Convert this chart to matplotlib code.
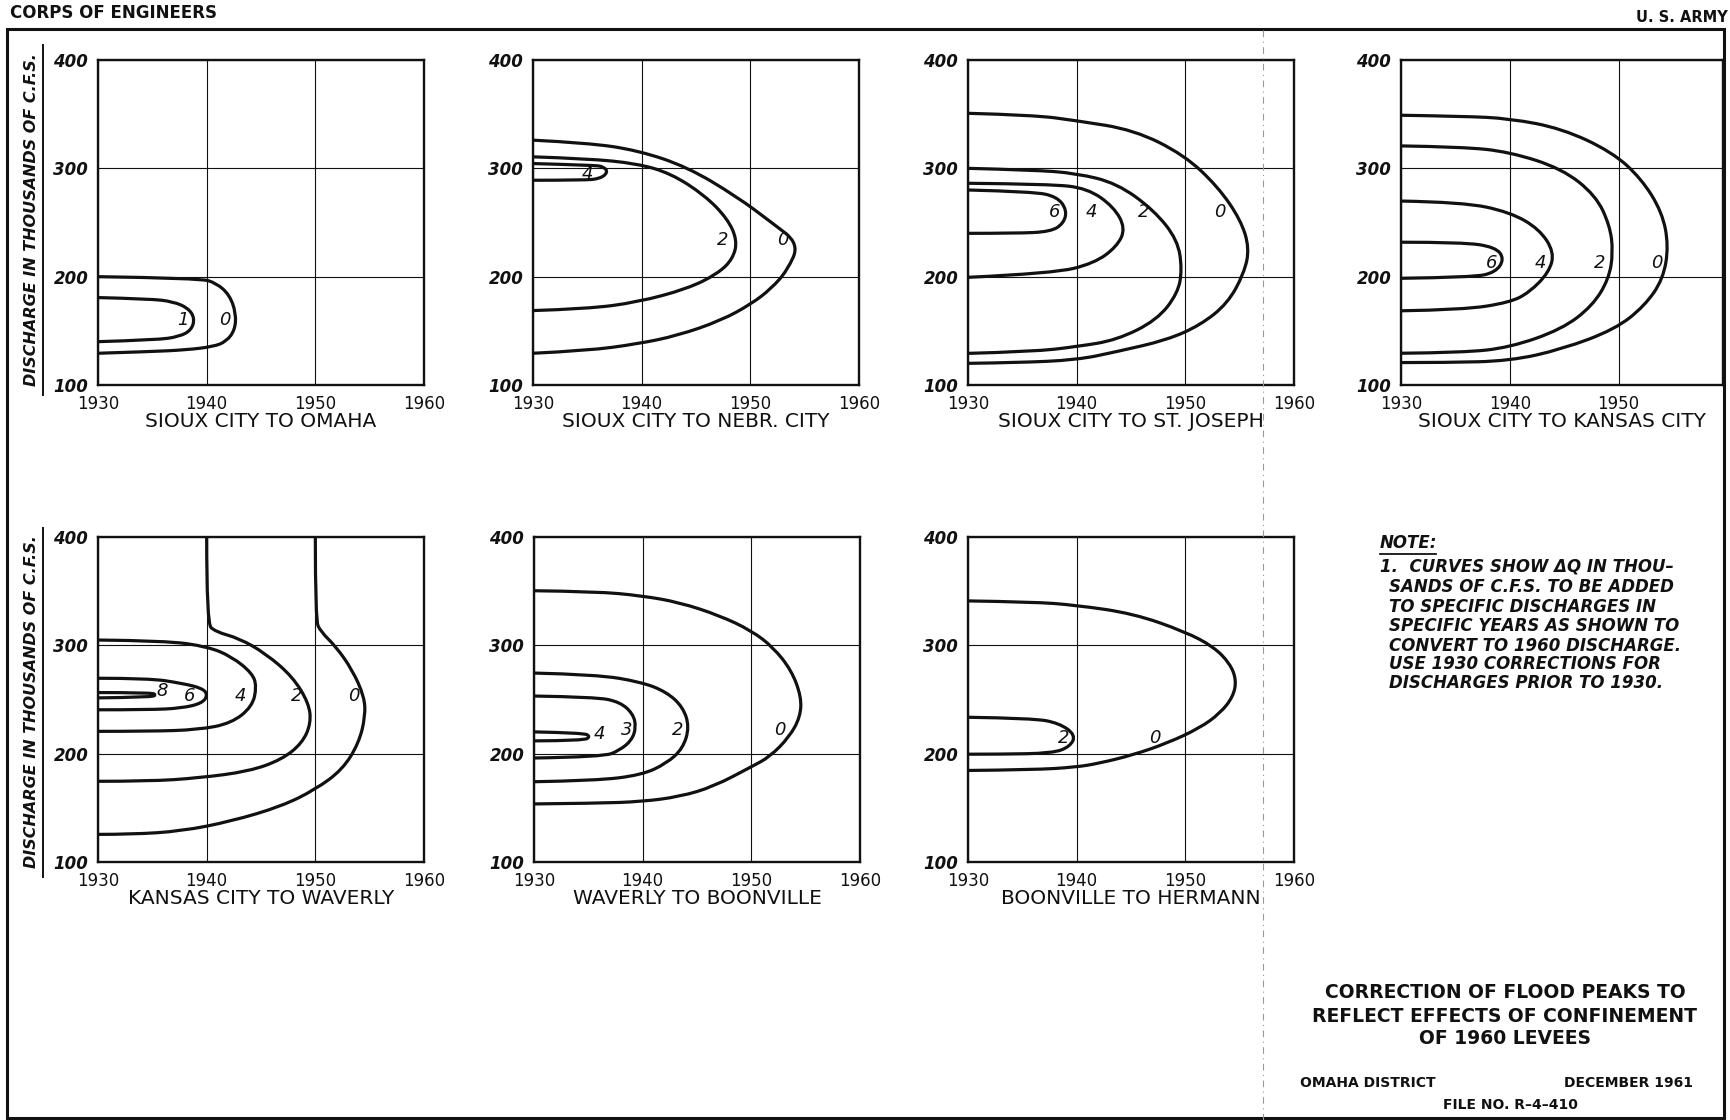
import numpy as np
import matplotlib.pyplot as plt
from matplotlib.path import Path
from matplotlib.patches import PathPatch, Rectangle
from matplotlib.lines import Line2D

# Curves of equal correction (thousands of c.f.s.), as (year, discharge) pairs

# Sioux City to Omaha
omaha_0 = [(1930, 200), (1939.4, 198.6), (1940.9, 194), (1942.1, 183.2), (1942.7, 166.2),
           (1942.6, 150.8), (1941.8, 140.1), (1940.6, 135.4), (1938.1, 132.4), (1934.8, 130.8),
           (1930, 129.3)]
omaha_1 = [(1930, 180.7), (1934.8, 179.5), (1936.9, 177), (1938.3, 171), (1938.9, 161.6),
           (1938.6, 150.8), (1937.5, 144.7), (1935.4, 141.6), (1930, 140)]

# Sioux City to Nebr. City
nebr_0 = [(1930, 326), (1935, 323.5), (1939.6, 316.7), (1944.2, 301.3), (1948.8, 273.6),
          (1951.9, 250.4), (1954.5, 230.4), (1953.4, 205.7), (1951.9, 188.8), (1950.1, 174.9),
          (1947.3, 159.5), (1943.3, 145.6), (1939.6, 137.9), (1935, 131.7), (1930, 129.3)]
nebr_2 = [(1930, 310.6), (1935, 309), (1939.6, 304.4), (1942.7, 295.2), (1945.8, 275.1),
          (1947.9, 253.5), (1948.8, 233.5), (1948.4, 216.5), (1947, 202.7), (1944.2, 188.8),
          (1939.6, 176.4), (1935, 170.3), (1930, 168.7)]
nebr_4 = [(1930, 304.4), (1935.6, 302.9), (1936.5, 301.5), (1936.9, 296.5), (1936.2, 290.5),
          (1934.7, 289), (1930, 289)]

# Sioux City to St. Joseph
stjoe_0 = [(1930, 350.8), (1936, 349.2), (1940, 344), (1945.3, 335.4), (1949.9, 312.3),
           (1953, 283), (1955.1, 252.3), (1955.9, 226.2), (1955.4, 203.1), (1953.9, 175.4),
           (1951.4, 155.4), (1948.3, 141.5), (1943.7, 130.8), (1940, 123.1), (1934.5, 120.6),
           (1930, 120)]
stjoe_2 = [(1930, 300), (1936, 298.5), (1940, 295.4), (1943.7, 286.2), (1947.1, 261.5),
           (1949.3, 233.8), (1949.7, 206.2), (1949.3, 184.6), (1947.4, 160), (1943.7, 141.5),
           (1940, 135.4), (1936, 130.8), (1930, 129.2)]
stjoe_4 = [(1930, 286.2), (1937.6, 285.5), (1941, 281.5), (1943.4, 264.6), (1944.5, 244.6),
           (1943.7, 227.7), (1941.6, 212.3), (1937.9, 203.1), (1930, 199.4)]
stjoe_6 = [(1930, 280), (1936, 278.5), (1938.2, 273.8), (1939.1, 261.5), (1938.8, 249.2),
           (1937.6, 241.5), (1934.5, 240), (1930, 240)]

# Sioux City to Kansas City
kc_0 = [(1930, 349), (1935.7, 348.1), (1940, 346), (1944.8, 336.7), (1949.4, 315.1),
        (1952.1, 290.4), (1954, 259.6), (1954.6, 228.7), (1954.1, 197.8), (1952.4, 173.1),
        (1949.7, 151.5), (1944.8, 133), (1940, 122.2), (1934.2, 120.7), (1930, 120.7)]
kc_2 = [(1930, 320.7), (1935.7, 319.8), (1940, 315.1), (1944.8, 299.7), (1947.9, 275),
        (1949.2, 247.2), (1949.5, 222.5), (1949.1, 197.8), (1947.6, 173.1), (1944.8, 151.5),
        (1940, 134.6), (1935.7, 129.9), (1930, 129.3)]
kc_4 = [(1930, 269.8), (1935.7, 268.8), (1940, 259.6), (1942.7, 244.1), (1944.1, 222.5),
        (1943.6, 204), (1941.8, 185.5), (1940, 176.2), (1935.7, 169.4), (1930, 168.5)]
kc_6 = [(1930, 231.8), (1935.7, 231.8), (1938.7, 227.2), (1939.5, 216.4), (1938.7, 204),
        (1936.6, 199.4), (1930, 198.5)]

# Kansas City to Waverly
wav_0 = [(1950, 400), (1950, 323.3), (1950.5, 312.6), (1951.9, 298.8), (1953.4, 277.3),
         (1954.5, 252.8), (1954.6, 234.4), (1954, 209.8), (1952.5, 185.3), (1950, 166.9),
         (1946.9, 151.5), (1942.3, 137.7), (1937.7, 128.5), (1933.1, 125.5), (1930, 125.5)]
wav_2 = [(1940, 400), (1940, 320.2), (1940.8, 312.6), (1943, 306.4), (1945.4, 292.6),
         (1947.9, 271.2), (1949.4, 246.6), (1949.6, 228.2), (1948.8, 209.8), (1946.9, 194.5),
         (1943.9, 183.7), (1939.3, 177.6), (1934.7, 174.5), (1930, 174.5)]
wav_4 = [(1930, 304.9), (1936.2, 304.3), (1940.1, 298.8), (1942.3, 289.6), (1944.2, 274.2),
         (1944.6, 262), (1944.2, 243.6), (1942.3, 228.2), (1939.3, 222.1), (1934.7, 220.6),
         (1930, 220.6)]
wav_6 = [(1930, 269.6), (1934.7, 269.6), (1937.7, 265), (1939.6, 260.4), (1940.1, 254.3),
         (1939.6, 246.6), (1937.7, 242), (1934.7, 240.5), (1930, 240.5)]
wav_8 = [(1930, 256.4), (1934.8, 256.4), (1935.4, 254.3), (1934.8, 252.1), (1930, 251.5)]

# Waverly to Boonville
boon_0 = [(1930, 350.4), (1935.7, 349.7), (1939.9, 345.8), (1943.4, 339.6), (1947.1, 327.4),
          (1950, 313.6), (1952, 298.3), (1953.7, 276.8), (1954.6, 252.3), (1954.5, 233.9),
          (1953.5, 215.5), (1951.7, 197.1), (1950, 187.9), (1946.5, 169.5), (1943.4, 160.3),
          (1939.9, 155.7), (1935.7, 154.2), (1930, 153.6)]
boon_2 = [(1930, 274.4), (1935.7, 273.1), (1939.9, 266.1), (1942.2, 256.9), (1943.7, 243.1),
          (1944.3, 224.7), (1943.7, 204.8), (1942.2, 191), (1939.9, 180.3), (1935.7, 175.1),
          (1930, 174.1)]
boon_3 = [(1930, 253.2), (1935.7, 252.3), (1937.9, 247.7), (1939.1, 237), (1939.4, 224.7),
          (1939, 212.4), (1937.9, 203.3), (1936.4, 197), (1930, 196)]
boon_4 = [(1930, 220.1), (1934.5, 219.2), (1935.2, 216), (1934.6, 212), (1930, 211.8)]

# Boonville to Hermann
herm_0 = [(1930, 341), (1936, 340.1), (1939.9, 337.1), (1945.2, 329.4), (1950, 312.5),
          (1952.6, 298.7), (1954.1, 283.3), (1954.7, 268), (1954.4, 252.6), (1953.2, 237.3),
          (1951.3, 223.5), (1948.3, 209.6), (1945.2, 198.9), (1942.1, 191.2), (1939.9, 187.5),
          (1936, 185.1), (1930, 184.5)]
herm_2 = [(1930, 233.6), (1936, 232.7), (1938.4, 228.1), (1939.9, 217.3), (1939.4, 206.6),
          (1937.8, 200.4), (1932.9, 199.5), (1930, 199.5)]

# where each curve value is lettered
omaha_lbl = [(1941.7, 160), (1937.8, 160)]
nebr_lbl = [(1953, 233.5), (1947.5, 233.5), (1935, 294.5)]
stjoe_lbl = [(1953.2, 260), (1946.2, 260), (1941.4, 260), (1938, 260)]
kc_lbl = [(1953.5, 213), (1948.3, 213), (1942.8, 213), (1938.3, 213)]
wav_lbl = [(1953.5, 252.8), (1948.3, 252.8), (1943.1, 252.8), (1938.4, 252.8), (1935.9, 257.4)]
boon_lbl = [(1952.6, 221.6), (1943.2, 221.6), (1938.5, 221.6), (1936, 218)]
herm_lbl = [(1947.2, 214.9), (1938.8, 214.9)]

reaches = ["SIOUX CITY TO OMAHA", "SIOUX CITY TO NEBR. CITY", "SIOUX CITY TO ST. JOSEPH",
           "SIOUX CITY TO KANSAS CITY", "KANSAS CITY TO WAVERLY", "WAVERLY TO BOONVILLE",
           "BOONVILLE TO HERMANN"]
levels = [[0, 1], [0, 2, 4], [0, 2, 4, 6], [0, 2, 4, 6], [0, 2, 4, 6, 8], [0, 2, 3, 4], [0, 2]]
curves = [[omaha_0, omaha_1], [nebr_0, nebr_2, nebr_4], [stjoe_0, stjoe_2, stjoe_4, stjoe_6],
          [kc_0, kc_2, kc_4, kc_6], [wav_0, wav_2, wav_4, wav_6, wav_8],
          [boon_0, boon_2, boon_3, boon_4], [herm_0, herm_2]]
labels = [omaha_lbl, nebr_lbl, stjoe_lbl, kc_lbl, wav_lbl, boon_lbl, herm_lbl]

years = [1930, 1940, 1950, 1960]
discharges = [100, 200, 300, 400]

note_lines = ["1.  CURVES SHOW \u0394Q IN THOU\u2013", "SANDS OF C.F.S. TO BE ADDED",
              "TO SPECIFIC DISCHARGES IN", "SPECIFIC YEARS AS SHOWN TO",
              "CONVERT TO 1960 DISCHARGE.", "USE 1930 CORRECTIONS FOR",
              "DISCHARGES PRIOR TO 1930."]
title_lines = ["CORRECTION OF FLOOD PEAKS TO", "REFLECT EFFECTS OF CONFINEMENT",
               "OF 1960 LEVEES"]


W, H = 1730, 1120
INK = '#111111'


def box(left, top, width, height):
    # pixel box -> figure fraction
    return [left / W, 1 - (top + height) / H, width / W, height / H]


def smooth(pts):
    # quadratic bezier through midpoints, read points act as control points
    pts = np.asarray(pts, float)
    verts = [pts[0]]
    codes = [Path.MOVETO]
    n = len(pts)
    for i in range(1, n - 1):
        end = pts[i + 1] if i == n - 2 else (pts[i] + pts[i + 1]) / 2
        verts += [pts[i], end]
        codes += [Path.CURVE3, Path.CURVE3]
    return Path(verts, codes)


fig = plt.figure(figsize=(17.3, 11.2), dpi=100)

spots = [(98, 60, 326), (533, 60, 326), (968, 60, 326), (1401, 60, 322),
         (98, 537, 326), (534, 537, 326), (968, 537, 326)]

for k, (left, top, width) in enumerate(spots):
    ax = fig.add_axes(box(left, top, width, 325))
    last = 1960 if k != 3 else 1959.6
    ax.set_xlim(1930, last)
    ax.set_ylim(100, 400)
    ax.set_xticks([y for y in years if y <= last])
    ax.set_yticks(discharges)
    ax.grid(True, color=INK, lw=0.8)
    ax.set_axisbelow(True)
    for s in ax.spines.values():
        s.set_linewidth(1.7)
        s.set_color(INK)
    ax.tick_params(length=0, pad=7, labelsize=12, colors=INK)
    for t in ax.get_yticklabels():
        t.set_style('italic')
        t.set_fontweight('bold')
    for lev, pts, pos in zip(levels[k], curves[k], labels[k]):
        ax.add_patch(PathPatch(smooth(pts), fill=False, lw=2.3, ec=INK,
                               joinstyle='round', capstyle='butt'))
        ax.text(pos[0], pos[1], str(lev), fontsize=13, style='italic',
                ha='center', va='center', color=INK)
    ax.text(0.5, -0.112, reaches[k], transform=ax.transAxes, fontsize=14.5,
            ha='center', va='center', color=INK)

# axis titles with rule beside them
for mid, top, bot in [(220, 45, 395), (702, 528, 877)]:
    fig.text(32 / W, 1 - mid / H, "DISCHARGE IN THOUSANDS OF C.F.S.", rotation=90,
             ha='center', va='center', fontsize=11.5, fontweight='bold',
             style='italic', color=INK)
    fig.add_artist(Line2D([43 / W, 43 / W], [1 - top / H, 1 - bot / H], lw=1.4, color=INK))

# sheet border and headings
fig.add_artist(Rectangle((7 / W, 2 / H), 1717 / W, 1089 / H, fill=False, lw=2.2,
                         ec=INK, transform=fig.transFigure))
fig.add_artist(Line2D([1263 / W, 1263 / W], [0, 1 - 30 / H], lw=0.8, color='0.6',
                      ls=(0, (6, 4, 1, 4))))
fig.text(10 / W, 1 - 13 / H, "CORPS OF ENGINEERS", fontsize=12, fontweight='bold',
         ha='left', va='center', color=INK)
fig.text(1728 / W, 1 - 17 / H, "U. S. ARMY", fontsize=10.5, fontweight='bold',
         ha='right', va='center', color=INK)

# note
fig.text(1380 / W, 1 - 543 / H, "NOTE:", fontsize=12, style='italic', fontweight='bold',
         ha='left', va='center', color=INK)
fig.add_artist(Line2D([1380 / W, 1436 / W], [1 - 554 / H, 1 - 554 / H], lw=1.3, color=INK))
note_y = [567, 587, 607, 626, 646, 664, 683]
for i, (line, y) in enumerate(zip(note_lines, note_y)):
    x = 1380 if i == 0 else 1389
    fig.text(x / W, 1 - y / H, line, fontsize=12, style='italic', fontweight='bold',
             ha='left', va='center', color=INK)

# title block
for line, y in zip(title_lines, [992, 1017, 1038]):
    fig.text(1505 / W, 1 - y / H, line, fontsize=13.5, fontweight='bold',
             ha='center', va='center', color=INK)
fig.text(1300 / W, 1 - 1083 / H, "OMAHA DISTRICT", fontsize=10, fontweight='bold',
         ha='left', va='center', color=INK)
fig.text(1693 / W, 1 - 1083 / H, "DECEMBER 1961", fontsize=10, fontweight='bold',
         ha='right', va='center', color=INK)
fig.text(1510 / W, 1 - 1105 / H, "FILE NO. R\u20134\u2013410", fontsize=10,
         fontweight='bold', ha='center', va='center', color=INK)

fig.savefig("out.png", dpi=100)
